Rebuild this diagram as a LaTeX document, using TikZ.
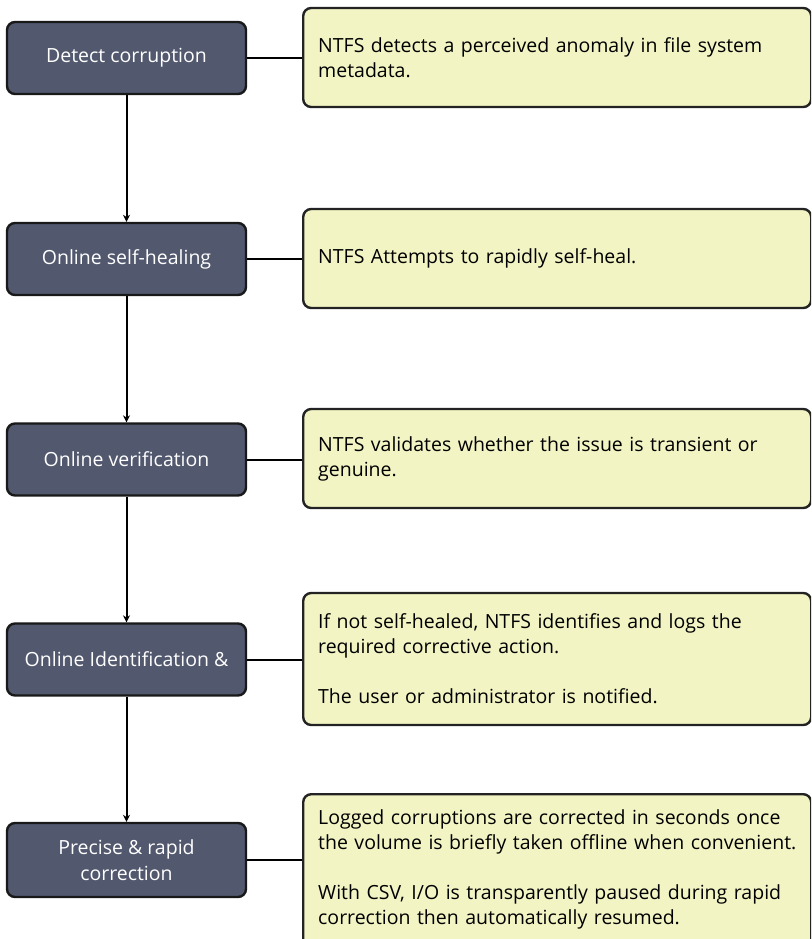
\documentclass[tikz,border=0pt]{standalone}
\usepackage{fontspec}
\setmainfont{Open Sans}
\usetikzlibrary{arrows.meta}
\definecolor{stepfill}{RGB}{82,88,110}
\definecolor{notefill}{RGB}{242,244,196}
\definecolor{noteline}{RGB}{35,35,35}
\hyphenpenalty=10000
\hfuzz=100pt
\begin{document}
\begin{tikzpicture}[x=1pt,y=-1pt,
 stepbox/.style={draw=black!90, line width=2.4pt, fill=stepfill, rounded corners=8pt,
   minimum width=239pt, minimum height=72pt, text=white,
   font=\fontsize{19.5}{25.5}\selectfont, align=center, inner sep=0pt},
 notebox/.style={draw=noteline, line width=2.4pt, fill=notefill, rounded corners=8pt,
   minimum width=508pt, minimum height=99pt, anchor=west, text width=478pt,
   inner xsep=15pt, inner ysep=0pt, align=left, font=\fontsize{19.5}{25}\selectfont},
 link/.style={line width=2pt},
 flow/.style={line width=2pt, -{Stealth[length=7pt,width=7pt]}}]
\useasboundingbox (0,0) rectangle (811,939);
\clip (0,0) rectangle (811,939);

\node[stepbox] (s1) at (126.5,58) {Detect corruption};
\node[stepbox] (s2) at (126.5,259) {Online self-healing};
\node[stepbox] (s3) at (126.5,459.5) {Online verification};
\node[stepbox] (s4) at (126.5,659.5) {Online Identification \&};
\node[stepbox, minimum height=74pt] (s5) at (126.5,860) {Precise \& rapid\\correction};

\node[notebox] (n1) at (302,57.5) {NTFS detects a perceived anomaly in file system\\metadata.};
\node[notebox] (n2) at (302,258.5) {NTFS Attempts to rapidly self-heal.};
\node[notebox] (n3) at (302,458.5) {NTFS validates whether the issue is transient or\\genuine.};
\node[notebox, minimum height=132pt] (n4) at (302,659) {If not self-healed, NTFS identifies and logs the\\required corrective action.\\[25pt]The user or administrator is notified.};
\node[notebox, anchor=north west, minimum height=0pt, inner ysep=15pt] (n5) at (302,793)
  {\parbox[c][200pt][t]{478pt}{\raggedright Logged corruptions are corrected in seconds once\\\mbox{the volume is briefly taken offline when convenient.}\\[25pt]With CSV, I/O is transparently paused during rapid\\correction then automatically resumed.}};

\draw[link] (s1) -- (s1 -| n1.west);
\draw[link] (s2) -- (s2 -| n2.west);
\draw[link] (s3) -- (s3 -| n3.west);
\draw[link] (s4) -- (s4 -| n4.west);
\draw[link] (s5) -- (s5 -| n5.west);

\draw[flow] (s1) -- (s2);
\draw[flow] (s2) -- (s3);
\draw[flow] (s3) -- (s4);
\draw[flow] (s4) -- (s5);
\end{tikzpicture}
\end{document}
